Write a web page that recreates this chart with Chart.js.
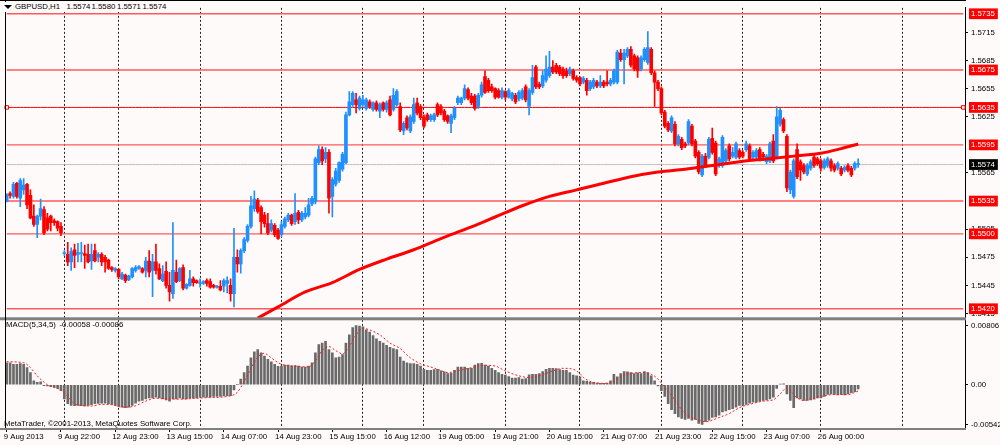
<!DOCTYPE html>
<html><head><meta charset="utf-8">
<script src="https://cdn.jsdelivr.net/npm/chart.js"></script>
<style>
html,body{margin:0;padding:0;background:#FFFAFA;}
#wrap{position:relative;width:1000px;height:445px;overflow:hidden;background:#FFFAFA;}
canvas{position:absolute;left:0;top:0;}
.lbl{position:absolute;font-family:"Liberation Sans",Arial,sans-serif;font-size:7.8px;line-height:10px;color:#000;white-space:pre;}
.part{position:absolute;top:0;}
.tri{position:absolute;left:1px;top:3px;width:0;height:0;border-left:4px solid transparent;border-right:4px solid transparent;border-top:4px solid #000;}
</style></head>
<body><div id="wrap"><canvas id="c" width="1000" height="445" style="width:1000px;height:445px"></canvas>
<div class="lbl" id="title" style="left:3px;top:2px;width:167px;height:10px;background:#FFFAFA"></div>
<div class="lbl" id="macdLabel" style="left:0px;top:320px;width:140px;height:10px"></div>
<div class="lbl" id="copy" style="left:4px;top:419px">MetaTrader, ©2001-2013, MetaQuotes Software Corp.</div>
</div>
<script>
// ---- data ----
const symbolName = 'GBPUSD,H1';
const tickLabels = ['9 Aug 2013','9 Aug 22:00','12 Aug 23:00','13 Aug 15:00','14 Aug 07:00','14 Aug 23:00','15 Aug 15:00','16 Aug 12:00','19 Aug 05:00','19 Aug 21:00','20 Aug 15:00','21 Aug 07:00','21 Aug 23:00','22 Aug 15:00','23 Aug 07:00','26 Aug 00:00'];
const barsPerLabel = 16;
const dayStartBars = [17,33,57,81,105,123,147,169,193,217,240,264];
const totalSlots = 283;

const opens = [
1.5535,1.5543,1.5540,1.5554,1.5538,1.5547,1.5553,1.5541,1.5519,1.5510,
1.5519,1.5526,1.5517,1.5519,1.5514,1.5513,1.5508,1.5479,1.5478,1.5470,
1.5483,1.5478,1.5479,1.5479,1.5478,1.5471,1.5482,1.5475,1.5478,1.5475,
1.5472,1.5464,1.5461,1.5462,1.5452,1.5456,1.5451,1.5454,1.5461,1.5463,
1.5463,1.5461,1.5471,1.5461,1.5470,1.5463,1.5450,1.5460,1.5445,1.5436,
1.5459,1.5450,1.5464,1.5442,1.5445,1.5452,1.5450,1.5447,1.5447,1.5450,
1.5449,1.5445,1.5443,1.5444,1.5444,1.5447,1.5445,1.5436,1.5475,1.5468,
1.5482,1.5493,1.5508,1.5527,1.5536,1.5528,1.5520,1.5511,1.5504,1.5509,
1.5504,1.5499,1.5508,1.5515,1.5520,1.5513,1.5523,1.5515,1.5518,1.5520,
1.5532,1.5534,1.5576,1.5590,1.5580,1.5587,1.5540,1.5553,1.5557,1.5569,
1.5576,1.5627,1.5638,1.5643,1.5634,1.5638,1.5634,1.5641,1.5633,1.5640,
1.5631,1.5640,1.5633,1.5643,1.5633,1.5638,1.5636,1.5610,1.5624,1.5610,
1.5620,1.5640,1.5636,1.5625,1.5627,1.5622,1.5622,1.5638,1.5636,1.5631,
1.5626,1.5618,1.5624,1.5640,1.5640,1.5645,1.5654,1.5647,1.5647,1.5636,
1.5648,1.5668,1.5664,1.5657,1.5655,1.5653,1.5646,1.5652,1.5646,1.5644,
1.5648,1.5644,1.5645,1.5657,1.5636,1.5651,1.5678,1.5660,1.5658,1.5664,
1.5669,1.5678,1.5680,1.5678,1.5676,1.5674,1.5671,1.5674,1.5667,1.5667,
1.5662,1.5664,1.5655,1.5657,1.5662,1.5658,1.5662,1.5662,1.5660,1.5662,
1.5662,1.5693,1.5686,1.5690,1.5697,1.5690,1.5688,1.5676,1.5686,1.5683,
1.5697,1.5672,1.5662,1.5655,1.5630,1.5618,1.5610,1.5617,1.5596,1.5601,
1.5596,1.5597,1.5615,1.5599,1.5587,1.5563,1.5583,1.5582,1.5602,1.5597,
1.5573,1.5573,1.5578,1.5594,1.5583,1.5582,1.5589,1.5587,1.5590,1.5594,
1.5582,1.5582,1.5590,1.5585,1.5577,1.5578,1.5599,1.5582,1.5617,1.5622,
1.5604,1.5547,1.5540,1.5590,1.5577,1.5573,1.5564,1.5570,1.5582,1.5580,
1.5578,1.5571,1.5573,1.5578,1.5573,1.5570,1.5570,1.5568,1.5573,1.5570,
1.5570,1.5574];
const highs = [
1.5543,1.5545,1.5555,1.5555,1.5559,1.5559,1.5554,1.5547,1.5531,1.5520,
1.5537,1.5529,1.5522,1.5520,1.5516,1.5514,1.5512,1.5482,1.5491,1.5485,
1.5489,1.5490,1.5491,1.5488,1.5489,1.5489,1.5489,1.5480,1.5480,1.5477,
1.5473,1.5465,1.5464,1.5463,1.5459,1.5457,1.5456,1.5464,1.5466,1.5466,
1.5464,1.5475,1.5482,1.5478,1.5489,1.5468,1.5466,1.5470,1.5459,1.5512,
1.5472,1.5464,1.5467,1.5447,1.5461,1.5454,1.5451,1.5452,1.5450,1.5452,
1.5452,1.5446,1.5445,1.5450,1.5452,1.5454,1.5452,1.5506,1.5483,1.5484,
1.5496,1.5510,1.5540,1.5546,1.5538,1.5530,1.5523,1.5522,1.5515,1.5511,
1.5506,1.5513,1.5518,1.5522,1.5521,1.5543,1.5525,1.5524,1.5528,1.5538,
1.5540,1.5582,1.5594,1.5593,1.5592,1.5590,1.5560,1.5570,1.5577,1.5587,
1.5630,1.5652,1.5652,1.5650,1.5647,1.5648,1.5645,1.5643,1.5641,1.5642,
1.5640,1.5641,1.5642,1.5647,1.5655,1.5654,1.5640,1.5620,1.5626,1.5627,
1.5645,1.5645,1.5638,1.5627,1.5629,1.5628,1.5629,1.5640,1.5638,1.5633,
1.5627,1.5628,1.5636,1.5647,1.5646,1.5659,1.5656,1.5650,1.5649,1.5650,
1.5662,1.5674,1.5666,1.5660,1.5656,1.5655,1.5656,1.5653,1.5655,1.5651,
1.5650,1.5653,1.5655,1.5659,1.5655,1.5680,1.5680,1.5662,1.5674,1.5690,
1.5695,1.5685,1.5682,1.5680,1.5678,1.5677,1.5678,1.5676,1.5669,1.5668,
1.5668,1.5666,1.5664,1.5666,1.5664,1.5669,1.5664,1.5674,1.5666,1.5676,
1.5696,1.5697,1.5697,1.5699,1.5700,1.5692,1.5690,1.5690,1.5699,1.5716,
1.5699,1.5674,1.5664,1.5657,1.5632,1.5620,1.5626,1.5620,1.5606,1.5603,
1.5598,1.5622,1.5617,1.5601,1.5589,1.5585,1.5586,1.5603,1.5613,1.5599,
1.5582,1.5605,1.5591,1.5596,1.5592,1.5598,1.5591,1.5589,1.5599,1.5596,
1.5589,1.5591,1.5592,1.5587,1.5585,1.5598,1.5606,1.5636,1.5634,1.5624,
1.5606,1.5568,1.5580,1.5596,1.5579,1.5575,1.5575,1.5579,1.5584,1.5582,
1.5580,1.5580,1.5582,1.5580,1.5575,1.5577,1.5572,1.5573,1.5575,1.5572,
1.5577,1.5580];
const lows = [
1.5534,1.5538,1.5538,1.5538,1.5529,1.5542,1.5527,1.5516,1.5508,1.5496,
1.5515,1.5499,1.5503,1.5503,1.5509,1.5503,1.5498,1.5477,1.5466,1.5461,
1.5464,1.5470,1.5470,1.5463,1.5469,1.5462,1.5470,1.5470,1.5466,1.5459,
1.5462,1.5460,1.5459,1.5452,1.5451,1.5448,1.5450,1.5453,1.5459,1.5462,
1.5458,1.5454,1.5454,1.5433,1.5457,1.5451,1.5449,1.5442,1.5428,1.5431,
1.5448,1.5449,1.5440,1.5441,1.5444,1.5444,1.5447,1.5443,1.5446,1.5444,
1.5442,1.5442,1.5442,1.5439,1.5438,1.5437,1.5428,1.5422,1.5459,1.5458,
1.5480,1.5491,1.5506,1.5524,1.5522,1.5500,1.5507,1.5499,1.5502,1.5497,
1.5494,1.5497,1.5506,1.5513,1.5509,1.5510,1.5511,1.5513,1.5516,1.5518,
1.5530,1.5532,1.5574,1.5574,1.5576,1.5522,1.5518,1.5551,1.5555,1.5567,
1.5575,1.5626,1.5636,1.5629,1.5632,1.5636,1.5632,1.5634,1.5631,1.5631,
1.5624,1.5631,1.5630,1.5626,1.5631,1.5636,1.5609,1.5606,1.5611,1.5608,
1.5618,1.5627,1.5622,1.5613,1.5620,1.5620,1.5620,1.5625,1.5627,1.5620,
1.5618,1.5608,1.5622,1.5638,1.5638,1.5643,1.5643,1.5638,1.5632,1.5634,
1.5646,1.5650,1.5651,1.5651,1.5644,1.5645,1.5644,1.5643,1.5645,1.5642,
1.5639,1.5642,1.5643,1.5641,1.5627,1.5649,1.5655,1.5655,1.5656,1.5662,
1.5667,1.5671,1.5671,1.5669,1.5666,1.5667,1.5669,1.5664,1.5662,1.5658,
1.5660,1.5648,1.5653,1.5655,1.5656,1.5656,1.5656,1.5658,1.5658,1.5660,
1.5660,1.5684,1.5660,1.5688,1.5678,1.5674,1.5667,1.5674,1.5684,1.5681,
1.5670,1.5636,1.5653,1.5627,1.5613,1.5609,1.5608,1.5594,1.5594,1.5590,
1.5592,1.5595,1.5594,1.5581,1.5564,1.5561,1.5571,1.5580,1.5585,1.5562,
1.5571,1.5571,1.5576,1.5578,1.5581,1.5580,1.5580,1.5581,1.5588,1.5578,
1.5580,1.5580,1.5578,1.5580,1.5575,1.5576,1.5576,1.5580,1.5615,1.5608,
1.5545,1.5543,1.5538,1.5559,1.5557,1.5564,1.5562,1.5568,1.5571,1.5573,
1.5567,1.5569,1.5571,1.5567,1.5566,1.5568,1.5562,1.5566,1.5566,1.5561,
1.5568,1.5571];
const closes = [
1.5542,1.5541,1.5553,1.5540,1.5557,1.5552,1.5531,1.5517,1.5510,1.5519,
1.5527,1.5501,1.5505,1.5512,1.5512,1.5506,1.5501,1.5480,1.5470,1.5481,
1.5477,1.5480,1.5480,1.5477,1.5470,1.5478,1.5471,1.5478,1.5470,1.5470,
1.5463,1.5462,1.5463,1.5454,1.5457,1.5450,1.5455,1.5463,1.5464,1.5465,
1.5459,1.5471,1.5459,1.5470,1.5461,1.5452,1.5457,1.5445,1.5438,1.5461,
1.5449,1.5463,1.5442,1.5446,1.5452,1.5448,1.5448,1.5448,1.5449,1.5447,
1.5443,1.5443,1.5444,1.5440,1.5450,1.5450,1.5436,1.5475,1.5468,1.5482,
1.5494,1.5508,1.5530,1.5537,1.5524,1.5513,1.5511,1.5501,1.5511,1.5499,
1.5495,1.5510,1.5516,1.5520,1.5511,1.5522,1.5515,1.5522,1.5522,1.5531,
1.5538,1.5580,1.5590,1.5578,1.5587,1.5538,1.5558,1.5567,1.5576,1.5585,
1.5627,1.5641,1.5650,1.5638,1.5645,1.5643,1.5643,1.5636,1.5640,1.5633,
1.5638,1.5633,1.5640,1.5627,1.5648,1.5652,1.5611,1.5618,1.5613,1.5625,
1.5638,1.5629,1.5624,1.5615,1.5622,1.5626,1.5627,1.5627,1.5629,1.5622,
1.5620,1.5626,1.5634,1.5645,1.5645,1.5655,1.5645,1.5640,1.5634,1.5648,
1.5659,1.5651,1.5653,1.5653,1.5646,1.5646,1.5653,1.5646,1.5653,1.5650,
1.5641,1.5651,1.5653,1.5643,1.5653,1.5667,1.5657,1.5657,1.5669,1.5676,
1.5678,1.5673,1.5673,1.5671,1.5669,1.5669,1.5676,1.5666,1.5664,1.5660,
1.5666,1.5653,1.5662,1.5664,1.5658,1.5662,1.5658,1.5660,1.5664,1.5674,
1.5694,1.5686,1.5693,1.5697,1.5680,1.5676,1.5674,1.5688,1.5697,1.5699,
1.5672,1.5662,1.5655,1.5629,1.5615,1.5611,1.5624,1.5596,1.5604,1.5592,
1.5594,1.5620,1.5596,1.5583,1.5566,1.5583,1.5573,1.5601,1.5587,1.5564,
1.5580,1.5603,1.5589,1.5580,1.5587,1.5596,1.5582,1.5583,1.5596,1.5580,
1.5587,1.5589,1.5580,1.5582,1.5583,1.5596,1.5578,1.5625,1.5632,1.5610,
1.5549,1.5566,1.5578,1.5561,1.5568,1.5566,1.5573,1.5577,1.5573,1.5575,
1.5570,1.5578,1.5580,1.5570,1.5568,1.5575,1.5564,1.5571,1.5568,1.5563,
1.5575,1.5574];

const levels = [1.5735,1.5675,1.5635,1.5595,1.5535,1.5500,1.5420];
const selectedLevel = 1.5635;
const priceTicks = [1.5415,1.5445,1.5475,1.5505,1.5535,1.5565,1.5595,1.5625,1.5655,1.5685,1.5715];

const maPoints = [[74,1.5410],[80,1.5422],[88,1.5438],[96,1.5448],[104,1.5462],[112,1.5473],[120,1.5483],[128,1.5495],[136,1.5506],[144,1.5518],[152,1.5530],[160,1.5540],[168,1.5547],[176,1.5554],[184,1.5561],[192,1.5566],[200,1.5569],[208,1.5573],[216,1.5577],[224,1.5580],[232,1.5583],[240,1.5586],[246,1.5591],[251,1.5596]];

const macd = [
0.00300,0.00300,0.00278,0.00278,0.00287,0.00278,0.00233,0.00166,0.00054,0.00031,
0.00040,-0.00013,-0.00018,-0.00027,-0.00036,-0.00049,-0.00081,-0.00193,-0.00260,-0.00282,
-0.00287,-0.00282,-0.00287,-0.00291,-0.00282,-0.00273,-0.00260,-0.00255,-0.00251,-0.00251,
-0.00260,-0.00269,-0.00282,-0.00296,-0.00305,-0.00314,-0.00305,-0.00282,-0.00251,-0.00224,
-0.00215,-0.00193,-0.00179,-0.00179,-0.00170,-0.00179,-0.00193,-0.00206,-0.00224,-0.00193,
-0.00193,-0.00179,-0.00193,-0.00193,-0.00184,-0.00179,-0.00179,-0.00170,-0.00170,-0.00170,
-0.00166,-0.00161,-0.00161,-0.00161,-0.00152,-0.00148,-0.00148,-0.00072,0.00005,0.00076,
0.00166,0.00255,0.00367,0.00448,0.00479,0.00435,0.00390,0.00345,0.00314,0.00278,
0.00251,0.00255,0.00269,0.00269,0.00255,0.00260,0.00255,0.00242,0.00242,0.00255,
0.00300,0.00435,0.00547,0.00569,0.00591,0.00479,0.00435,0.00367,0.00376,0.00412,
0.00569,0.00681,0.00780,0.00806,0.00800,0.00790,0.00748,0.00717,0.00672,0.00627,
0.00591,0.00569,0.00538,0.00511,0.00493,0.00479,0.00376,0.00323,0.00300,0.00287,
0.00287,0.00278,0.00255,0.00211,0.00197,0.00197,0.00206,0.00211,0.00188,0.00175,
0.00152,0.00155,0.00197,0.00242,0.00242,0.00242,0.00224,0.00224,0.00269,0.00287,
0.00291,0.00269,0.00255,0.00224,0.00197,0.00166,0.00143,0.00130,0.00112,0.00090,
0.00090,0.00099,0.00076,0.00085,0.00134,0.00143,0.00143,0.00152,0.00179,0.00211,
0.00224,0.00224,0.00220,0.00206,0.00197,0.00197,0.00166,0.00130,0.00121,0.00108,
0.00054,0.00045,0.00031,0.00031,0.00022,0.00018,0.00018,0.00022,0.00054,0.00143,
0.00108,0.00152,0.00179,0.00175,0.00166,0.00152,0.00161,0.00152,0.00179,0.00166,
0.00121,0.00054,-0.00018,-0.00081,-0.00161,-0.00260,-0.00340,-0.00394,-0.00439,-0.00461,
-0.00475,-0.00461,-0.00484,-0.00475,-0.00529,-0.00542,-0.00506,-0.00484,-0.00448,-0.00439,
-0.00417,-0.00372,-0.00358,-0.00340,-0.00327,-0.00305,-0.00282,-0.00282,-0.00269,-0.00251,
-0.00237,-0.00237,-0.00224,-0.00215,-0.00206,-0.00193,-0.00170,-0.00049,0.00009,0.00013,
-0.00125,-0.00215,-0.00314,-0.00179,-0.00193,-0.00215,-0.00215,-0.00206,-0.00197,-0.00179,
-0.00179,-0.00161,-0.00134,-0.00125,-0.00134,-0.00139,-0.00134,-0.00139,-0.00125,-0.00110,
-0.00095,-0.00058];

const signalPoints = [[0,0.00314],[5,0.00300],[7,0.00233],[9,0.00121],[12,0],[16,-0.00072],[18,-0.00161],[20,-0.00260],[22,-0.00282],[25,-0.00291],[28,-0.00269],[31,-0.00273],[34,-0.00305],[36,-0.00305],[38,-0.00287],[41,-0.00224],[44,-0.00184],[48,-0.00193],[51,-0.00197],[58,-0.00179],[66,-0.00152],[68,-0.00103],[70,0.00045],[72,0.00224],[74,0.00376],[76,0.00430],[77,0.00403],[79,0.00331],[81,0.00278],[85,0.00255],[89,0.00242],[91,0.00323],[93,0.00466],[95,0.00520],[97,0.00466],[99,0.00421],[101,0.00524],[103,0.00681],[105,0.00771],[107,0.00748],[110,0.00681],[113,0.00569],[116,0.00493],[119,0.00367],[122,0.00287],[125,0.00242],[127,0.00211],[130,0.00166],[135,0.00211],[141,0.00264],[144,0.00255],[147,0.00188],[151,0.00121],[154,0.00099],[157,0.00121],[161,0.00188],[164,0.00224],[167,0.00211],[169,0.00152],[170,0.00099],[173,0.00031],[177,0.00018],[179,0.00054],[181,0.00108],[183,0.00143],[187,0.00166],[190,0.00143],[192,0.00076],[194,-0.00036],[196,-0.00148],[198,-0.00282],[200,-0.00394],[202,-0.00448],[204,-0.00484],[206,-0.00506],[208,-0.00484],[210,-0.00448],[213,-0.00394],[216,-0.00314],[219,-0.00269],[223,-0.00224],[226,-0.00206],[228,-0.00125],[230,-0.00045],[231,-0.00081],[233,-0.00179],[235,-0.00215],[237,-0.00193],[240,-0.00161],[244,-0.00134],[248,-0.00134],[251,-0.00086]];

const macdTicks = [0.00806, 0, -0.00542];

// ---- build ----
const N = opens.length;
const slots = Array.from({length: totalSlots}, (_, i) => i);
const lastClose = closes[N - 1];
const ma = new Array(N).fill(null); maPoints.forEach(([i, v]) => { ma[i] = v; });
const sig = new Array(N).fill(null); signalPoints.forEach(([i, v]) => { sig[i] = v; });

function placeParts(el, parts, xs) {
  parts.forEach((t, k) => {
    const s = document.createElement('span');
    s.className = 'part'; s.textContent = t; s.style.left = xs[k] + 'px';
    el.appendChild(s);
  });
}
const titleEl = document.getElementById('title');
const tri = document.createElement('span'); tri.className = 'tri'; titleEl.appendChild(tri);
placeParts(titleEl,
  [symbolName, ...[opens[N-1], highs[N-1], lows[N-1], closes[N-1]].map(v => v.toFixed(4))],
  [12, 63.5, 88.5, 114, 139.5]);
placeParts(document.getElementById('macdLabel'),
  ['MACD(5,34,5)', macd[N-1].toFixed(5), sig[N-1].toFixed(5)],
  [6, 59.5, 92.5]);

const BULL = '#1E90FF', BEAR = '#FF0000', BG = '#FFFAFA';
const candleColor = c => closes[c.dataIndex] >= opens[c.dataIndex] ? BULL : BEAR;
const levelSet = new Set(levels);
const isBoxed = v => levelSet.has(v) || v === lastClose;
const FONT = {family: '"Liberation Sans", Arial', size: 7.8, lineHeight: 1.25};
const CLEAR = 'rgba(0,0,0,0)';

const datasets = [];
levels.forEach(v => {
  const sel = v === selectedLevel;
  datasets.push({
    type: 'line', yAxisID: 'y', data: slots.map(() => v),
    borderColor: sel ? '#ff0000' : '#ff5a5a', borderWidth: sel ? 1 : 1.4,
    pointStyle: 'rect',
    pointRadius: sel ? (c => (c.dataIndex === 0 || c.dataIndex === totalSlots - 1) ? 2.5 : 0) : 0,
    pointBackgroundColor: BG, pointBorderColor: '#ff0000', pointBorderWidth: 1,
    order: 40
  });
});
datasets.push({type: 'line', yAxisID: 'y', data: slots.map(() => lastClose), borderColor: '#c0c0c0', borderWidth: 1, pointRadius: 0, order: 39});
datasets.push({type: 'bar', yAxisID: 'y', data: lows.map((l, i) => [l, highs[i]]), backgroundColor: candleColor, barThickness: 1, grouped: false, order: 20});
datasets.push({type: 'bar', yAxisID: 'y', data: opens.map((o, i) => [o, closes[i]]), backgroundColor: candleColor, barThickness: 3, minBarLength: 1, grouped: false, order: 19});
datasets.push({type: 'line', yAxisID: 'y', data: ma, borderColor: '#ff0000', borderWidth: 3, pointRadius: 0, spanGaps: true, cubicInterpolationMode: 'monotone', order: 10});
datasets.push({type: 'bar', yAxisID: 'yM', data: macd, backgroundColor: '#6a6a6a', barThickness: 2, grouped: false, order: 9});
datasets.push({type: 'line', yAxisID: 'yM', data: sig, borderColor: '#ff1a1a', borderWidth: 1, borderDash: [2, 2], pointRadius: 0, spanGaps: true, cubicInterpolationMode: 'monotone', order: 8});

const frame = {
  id: 'frame',
  afterDraw(chart) {
    const {ctx, chartArea: a, scales} = chart;
    const yM = scales.yM;
    ctx.save();
    ctx.fillStyle = '#808080';
    ctx.fillRect(0, yM.top - 1.5, a.right + 1, 3);
    ctx.fillRect(0, a.bottom, a.right + 1, 2);
    ctx.strokeStyle = '#000'; ctx.lineWidth = 1;
    ctx.beginPath();
    ctx.moveTo(a.left + 0.5, 0); ctx.lineTo(a.left + 0.5, a.bottom);
    ctx.moveTo(0, 0.5); ctx.lineTo(a.right + 1, 0.5);
    ctx.stroke();
    ctx.restore();
  }
};

new Chart(document.getElementById('c'), {
  type: 'bar',
  data: {labels: slots, datasets},
  options: {
    responsive: false, animation: false, devicePixelRatio: 1, events: [],
    layout: {padding: {left: 1, top: 1, right: 0, bottom: 0}},
    plugins: {legend: {display: false}, tooltip: {enabled: false}},
    scales: {
      x: {
        type: 'category', offset: true,
        grid: {
          offset: false, drawOnChartArea: true, drawTicks: true, tickLength: 4, lineWidth: 1,
          color: c => (c.tick && dayStartBars.includes(c.index)) ? '#222' : CLEAR,
          tickColor: c => (c.tick && c.index % barsPerLabel === 0 && c.index / barsPerLabel < tickLabels.length) ? '#000' : CLEAR
        },
        border: {display: false, dash: [2, 2]},
        ticks: {
          autoSkip: false, maxRotation: 0, minRotation: 0, align: 'start', labelOffset: -3, padding: 0,
          font: FONT, color: '#000',
          callback: (v, i) => (i % barsPerLabel === 0 && i / barsPerLabel < tickLabels.length) ? tickLabels[i / barsPerLabel] : ''
        },
        afterFit: s => { s.height = 17; }
      },
      y: {
        type: 'linear', position: 'right', stack: 'panels', stackWeight: 316,
        min: 1.54093, max: 1.57413,
        grid: {drawOnChartArea: false, drawTicks: true, tickLength: 3,
               tickColor: c => (c.tick && !isBoxed(c.tick.value)) ? '#000' : CLEAR},
        border: {display: true, color: '#000', width: 1},
        afterBuildTicks: s => {
          s.ticks = [
            ...priceTicks.filter(v => !levelSet.has(v)).map(v => ({value: v})),
            ...levels.map(v => ({value: v})),
            {value: lastClose}
          ];
        },
        ticks: {
          autoSkip: false, padding: 3, font: FONT,
          color: c => (c.tick && isBoxed(c.tick.value)) ? '#fff' : '#000',
          showLabelBackdrop: c => !!(c.tick && isBoxed(c.tick.value)),
          backdropColor: c => (c.tick && c.tick.value === lastClose) ? '#000' : '#ff0000',
          backdropPadding: {top: 0.5, bottom: 0.5, left: 2, right: 3},
          callback: v => Number(v).toFixed(4)
        },
        afterFit: s => { s.width = 35; }
      },
      yM: {
        type: 'linear', position: 'right', stack: 'panels', stackWeight: 111,
        min: -0.00591, max: 0.0090,
        grid: {drawOnChartArea: false, drawTicks: true, tickLength: 3, tickColor: '#000'},
        border: {display: true, color: '#000', width: 1},
        afterBuildTicks: s => { s.ticks = macdTicks.map(v => ({value: v})); },
        ticks: {
          autoSkip: false, padding: 3, font: FONT, color: '#000',
          callback: v => v === 0 ? '0.00' : Number(v).toFixed(5)
        },
        afterFit: s => { s.width = 35; }
      }
    }
  },
  plugins: [frame]
});
</script>
</body></html>
